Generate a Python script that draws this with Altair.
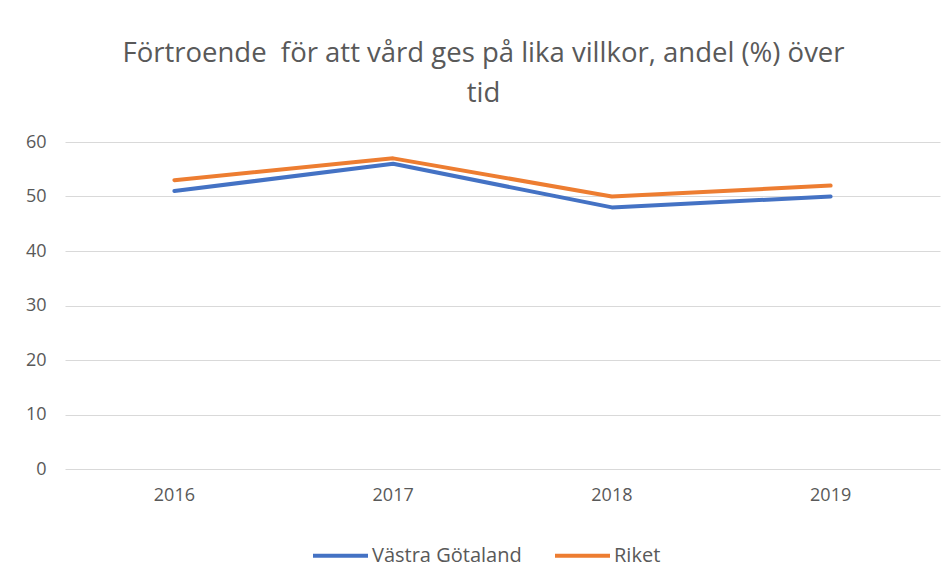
import altair as alt
import pandas as pd

years = ["2016", "2017", "2018", "2019"]
vastra_gotaland = [51, 56, 48, 50]
riket = [53, 57, 50, 52]
series_names = ["Västra Götaland", "Riket"]
colors = ["#4472C4", "#ED7D31"]

df = pd.DataFrame({
    "År": years * 2,
    "Andel": vastra_gotaland + riket,
    "Serie": [series_names[0]] * len(years) + [series_names[1]] * len(years),
})

font = "Open Sans"
grey = "#595959"

chart = alt.Chart(df).mark_line(strokeWidth=4, strokeCap="round", strokeJoin="round").encode(
    x=alt.X("År:N", sort=years, scale=alt.Scale(type="band", paddingInner=0, paddingOuter=0),
            axis=alt.Axis(title=None, labelAngle=0, domain=False, ticks=False, grid=False,
                          labelFontSize=18, labelColor=grey, labelFont=font, labelPadding=17)),
    y=alt.Y("Andel:Q", scale=alt.Scale(domain=[0, 60], nice=False),
            axis=alt.Axis(title=None, values=[0, 10, 20, 30, 40, 50, 60], domain=False, ticks=False,
                          gridColor="#d9d9d9", gridWidth=1, labelFontSize=18, labelColor=grey,
                          labelFont=font, labelPadding=19)),
    color=alt.Color("Serie:N", sort=series_names,
                    scale=alt.Scale(domain=series_names, range=colors),
                    legend=alt.Legend(title=None, orient="none", direction="horizontal",
                                      legendX=246, legendY=384, symbolType="stroke",
                                      symbolSize=3025, symbolStrokeWidth=4, labelFontSize=20,
                                      labelColor=grey, labelFont=font, columnPadding=25,
                                      labelOffset=2, padding=0)),
).properties(
    width=875,
    height=327,
    title=alt.TitleParams(
        text=["Förtroende\u00a0 för att vård ges på lika villkor, andel (%) över", "tid"],
        fontSize=27.5, font=font, fontWeight="normal", color=grey, lineHeight=40,
        anchor="middle", dx=-19, offset=26,
    ),
    padding={"left": 57, "top": 134, "right": 3, "bottom": 108},
    autosize=alt.AutoSizeParams(type="none"),
).configure_view(stroke=None)

chart.save("out.html", embed_options={"renderer": "svg", "actions": False})
